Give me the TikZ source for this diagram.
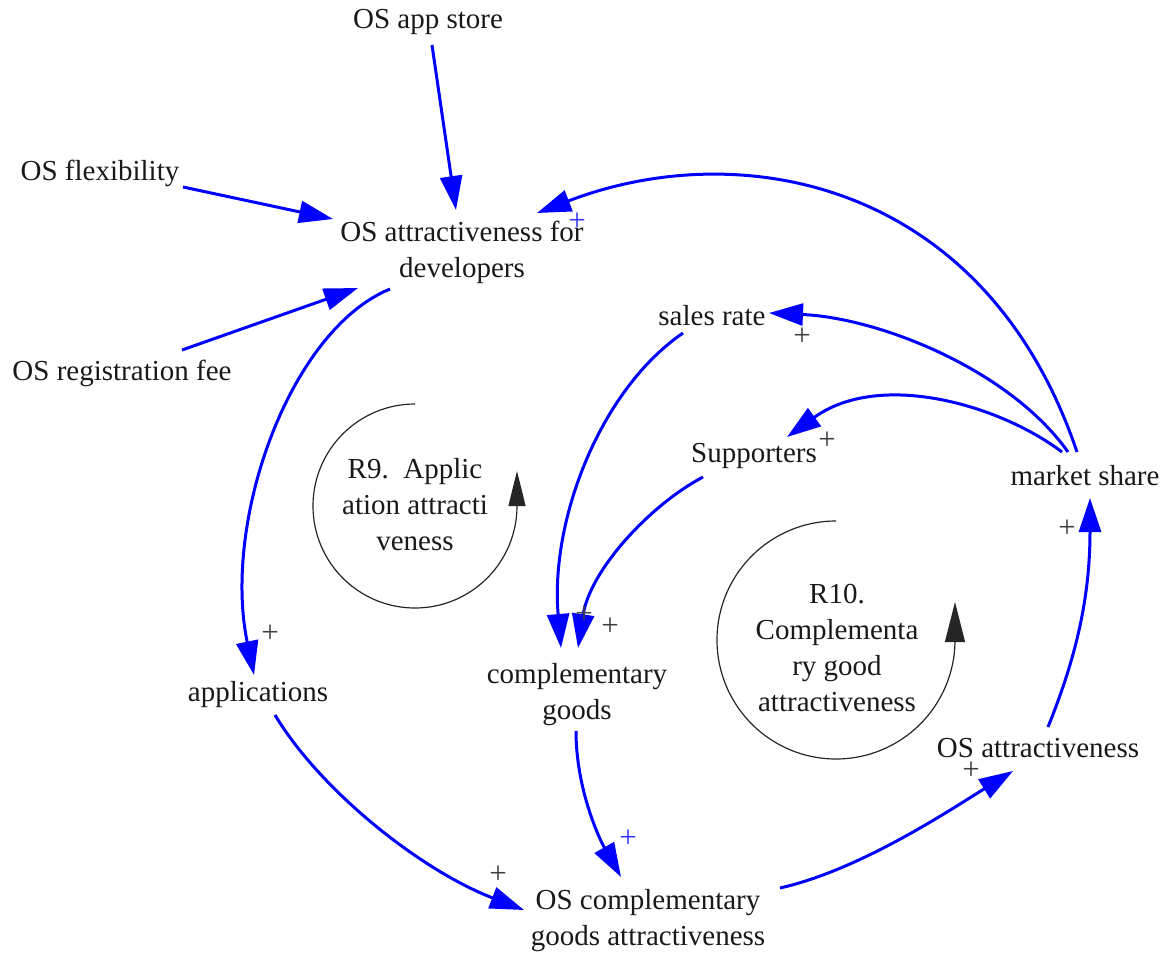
\documentclass[tikz,border=0pt]{standalone}
\usepackage{fontspec}
\setmainfont{Liberation Serif}
\usetikzlibrary{arrows.meta}
\begin{document}
\begin{tikzpicture}[x=1pt,y=-1pt,
  lbl/.style={font=\fontsize{29}{36}\selectfont, align=center, inner sep=0pt, text=black!90},
  link/.style={draw=blue, line width=3pt, -{Triangle[length=34pt,width=22pt]}},
  loopline/.style={draw=black!85, line width=1.2pt},
  plus/.style={font=\fontsize{31}{31}\selectfont, inner sep=0pt, text=black!75},
  bplus/.style={plus, text=blue!80}]
\useasboundingbox (0,0) rectangle (1176,956);

% variables
\node[lbl] (store) at (428,22) {OS app store};
\node[lbl] (flex)  at (100,173) {OS flexibility};
\node[lbl] (osad)  at (462,252) {OS attractiveness for\\developers};
\node[lbl] (fee)   at (122,373) {OS registration fee};
\node[lbl] (sales) at (712,316) {sales rate};
\node[lbl] (supp)  at (754,456) {Supporters};
\node[lbl] (share) at (1085,476) {market share};
\node[lbl] (apps)  at (258,695) {applications};
\node[lbl] (cg)    at (577,695) {complementary\\goods};
\node[lbl] (osa)   at (1038,748) {OS attractiveness};
\node[lbl] (oscga) at (648,921) {OS complementary\\goods attractiveness};

% loop labels
\node[lbl] (r9)  at (415,505) {R9.\ \ Applic\\ation attracti\\veness};
\node[lbl] (r10) at (837,648) {R10.\\Complementa\\ry good\\attractiveness};

% causal links
\draw[link] ([shift={(4,23)}]store.center) -- ([shift={(-6,-42)}]osad.center);
\draw[link] ([shift={(83,14)}]flex.center) -- ([shift={(-129,-33)}]osad.center);
\draw[link] ([shift={(60,-23)}]fee.center) -- ([shift={(-104,36)}]osad.center);
\draw[link] ([shift={(-8,-24)}]share.center) .. controls (985,180) and (740,135) .. ([shift={(75,-39)}]osad.center);
\draw[link] ([shift={(-17,-24)}]share.center) .. controls (1010,370) and (880,318) .. ([shift={(57,-3)}]sales.center);
\draw[link] ([shift={(-23,-24)}]share.center) .. controls (1000,405) and (880,370) .. ([shift={(33,-19)}]supp.center);
\draw[link] ([shift={(-72,37)}]osad.center) .. controls (290,330) and (222,520) .. ([shift={(-4,-20)}]apps.center);
\draw[link] ([shift={(-29,17)}]sales.center) .. controls (600,390) and (550,520) .. ([shift={(-16,-47)}]cg.center);
\draw[link] ([shift={(-51,21)}]supp.center) .. controls (650,505) and (590,570) .. ([shift={(1,-47)}]cg.center);
\draw[link] ([shift={(17,20)}]apps.center) .. controls (320,790) and (420,870) .. ([shift={(-124,-11)}]oscga.center);
\draw[link] ([shift={(-1,36)}]cg.center) .. controls (576,790) and (600,840) .. ([shift={(-27,-44)}]oscga.center);
\draw[link] ([shift={(132,-33)}]oscga.center) .. controls (860,870) and (950,810) .. ([shift={(-25,23)}]osa.center);
\draw[link] ([shift={(10,-21)}]osa.center) .. controls (1075,660) and (1090,600) .. ([shift={(5,22)}]share.center);

% link polarities
\node[bplus] (p1)  at (577,222) {+};
\node[plus]  (p2)  at (802,337) {+};
\node[plus]  (p3)  at (827,441) {+};
\node[plus]  (p4)  at (1067,529) {+};
\node[plus]  (p5)  at (270,634) {+};
\node[plus]  (p6)  at (584,615) {+};
\node[plus]  (p7)  at (610,627) {+};
\node[bplus] (p8)  at (628,839) {+};
\node[plus]  (p9)  at (498,875) {+};
\node[plus]  (p10) at (971,771) {+};

% loop circulation arrows
\draw[loopline, -{Triangle[length=35pt,width=17pt]}]
  ([shift={(0,-101)}]r9.center) arc[start angle=90, end angle=360, radius=102pt] -- ++(0,-35);
\draw[loopline, -{Triangle[length=40pt,width=20pt]}]
  ([shift={(-1,-127)}]r10.center) arc[start angle=90, end angle=360, radius=119pt] -- ++(0,-38);
\end{tikzpicture}
\end{document}
